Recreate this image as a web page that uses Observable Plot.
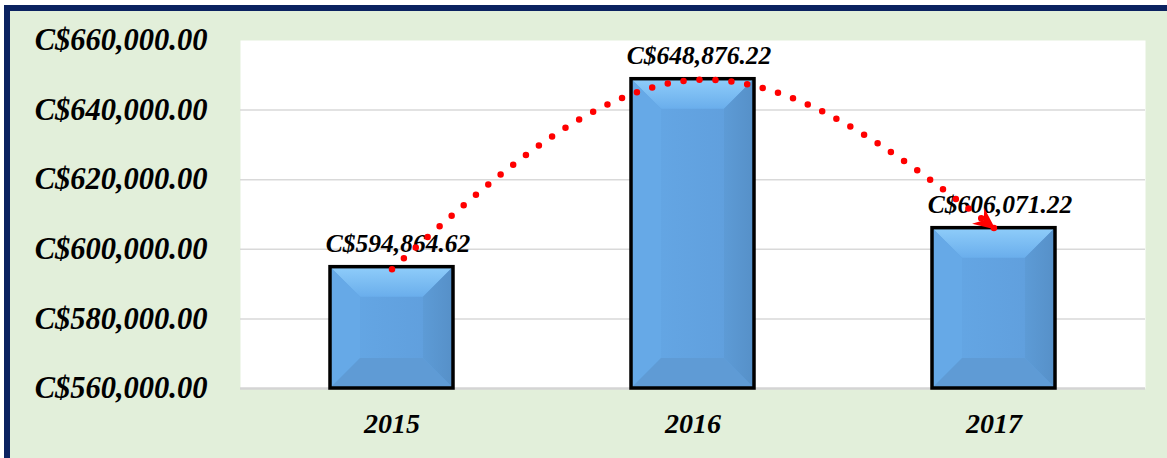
<!DOCTYPE html>
<html><head><meta charset="utf-8">
<script src="https://cdn.jsdelivr.net/npm/d3@7"></script>
<script src="https://cdn.jsdelivr.net/npm/@observablehq/plot@0.6"></script>
<style>
html,body{margin:0;padding:0;background:#fff;overflow:hidden;}
#frame{position:absolute;left:4px;top:5px;width:1163px;height:453px;background:#e2efda;border-left:6px solid #0b2260;border-top:6px solid #0b2260;box-sizing:border-box;}
#frame svg{display:block;}
</style></head><body><div id="frame"></div>
<script>
const years = ["2015", "2016", "2017"];
const values = [594864.62, 648876.22, 606071.22];
const valueLabels = ["C$594,864.62", "C$648,876.22", "C$606,071.22"];
const yTicks = [560000, 580000, 600000, 620000, 640000, 660000];
const gridTicks = [580000, 600000, 620000, 640000];
// trend arrow (annotation) passing over the bar tops
const arcYears = ["2015", "2016", "2017"];
const arcValues = [594300, 648600, 606071.22];

const bars = years.map((y, i) => ({year: y, value: values[i], label: valueLabels[i]}));
const arc = arcYears.map((y, i) => ({year: y, value: arcValues[i]}));

const NS = "http://www.w3.org/2000/svg";
function arrowMarker(color, context) {
  const m = context.document.createElementNS(NS, "marker");
  m.setAttribute("viewBox", "-22 -11 24 22");
  m.setAttribute("markerWidth", "24");
  m.setAttribute("markerHeight", "22");
  m.setAttribute("markerUnits", "userSpaceOnUse");
  m.setAttribute("orient", "auto");
  m.setAttribute("refX", "0");
  m.setAttribute("refY", "0");
  const p = context.document.createElementNS(NS, "path");
  p.setAttribute("d", "M2,0 L-20,-10 L-13,0 L-20,10 Z");
  p.setAttribute("fill", "#ff0000");
  p.setAttribute("stroke", "none");
  m.appendChild(p);
  return m;
}

function bevelRender(index, scales, vals, dims, context, next) {
  const g = next(index, scales, vals, dims, context);
  const rects = Array.from(g.querySelectorAll("rect"));
  for (const r of rects) {
    const x = +r.getAttribute("x"), y = +r.getAttribute("y");
    const w = +r.getAttribute("width"), h = +r.getAttribute("height");
    const b = Math.min(30, w / 4, h / 4);
    const polys = [
      [[x, y], [x + w, y], [x + w - b, y + b], [x + b, y + b], "url(#bevTop)"],
      [[x, y], [x + b, y + b], [x + b, y + h - b], [x, y + h], "#66a9e7"],
      [[x + w, y], [x + w, y + h], [x + w - b, y + h - b], [x + w - b, y + b], "url(#bevRight)"],
      [[x, y + h], [x + b, y + h - b], [x + w - b, y + h - b], [x + w, y + h], "#5f9bd5"]
    ];
    for (const pts of polys) {
      const fill = pts.pop();
      const p = context.document.createElementNS(NS, "polygon");
      p.setAttribute("points", pts.map(q => q.join(",")).join(" "));
      p.setAttribute("fill", fill);
      g.appendChild(p);
    }
    const o = context.document.createElementNS(NS, "rect");
    o.setAttribute("x", x); o.setAttribute("y", y);
    o.setAttribute("width", w); o.setAttribute("height", h);
    o.setAttribute("fill", "none"); o.setAttribute("stroke", "#000");
    o.setAttribute("stroke-width", "3.5");
    g.appendChild(o);
  }
  return g;
}

const fmt = d => "C$" + d3.format(",.2f")(d);

const chart = Plot.plot({
  width: 1157,
  height: 447,
  marginLeft: 230,
  marginRight: 22,
  marginTop: 29,
  marginBottom: 70,
  style: {fontFamily: "'Liberation Serif', 'DejaVu Serif', serif", fontWeight: "bold", fontStyle: "italic", color: "#000", background: "transparent"},
  x: {domain: years, paddingInner: 0.59, paddingOuter: 0.295, label: null},
  y: {domain: [560000, 660000], label: null},
  marks: [
    Plot.frame({fill: "white", stroke: "none"}),
    Plot.gridY(gridTicks, {stroke: "#d9d9d9", strokeOpacity: 1, strokeWidth: 1.5}),
    Plot.ruleY([560000], {stroke: "#d4d4d4", strokeWidth: 2.5}),
    Plot.barY(bars, {x: "year", y1: 560000, y2: "value", fill: "url(#bevCenter)", render: bevelRender}),
    Plot.text(bars, {x: "year", y: "value", text: "label", dy: -23, dx: 6, fontSize: 25.5, fill: "#000"}),
    Plot.line(arc, {x: "year", y: "value", curve: "natural", stroke: "#ff0000", strokeWidth: 6.5, strokeDasharray: "0 16", strokeLinecap: "round", markerEnd: arrowMarker}),
    Plot.axisY(yTicks, {tickSize: 0, tickPadding: 33, tickFormat: fmt, fontSize: 30.5, label: null}),
    Plot.axisX({tickSize: 0, tickPadding: 25, fontSize: 28, label: null})
  ]
});

const defs = document.createElementNS(NS, "defs");
defs.innerHTML =
  '<linearGradient id="bevTop" x1="0" y1="0" x2="0" y2="1"><stop offset="0" stop-color="#8fcdfa"/><stop offset="1" stop-color="#6aaeec"/></linearGradient>' +
  '<linearGradient id="bevRight" x1="0" y1="0" x2="1" y2="0"><stop offset="0" stop-color="#5d9bd6"/><stop offset="1" stop-color="#5690c8"/></linearGradient>' +
  '<linearGradient id="bevCenter" x1="0" y1="0" x2="1" y2="0"><stop offset="0" stop-color="#65a8e6"/><stop offset="1" stop-color="#5f9ddb"/></linearGradient>';
chart.insertBefore(defs, chart.firstChild);
document.getElementById("frame").appendChild(chart);
</script>
</body></html>
